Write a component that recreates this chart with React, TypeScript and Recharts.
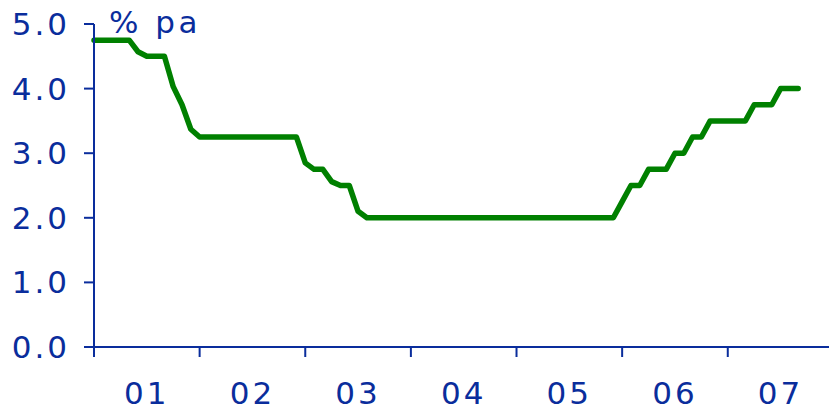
import { LineChart, Line, XAxis, YAxis } from "recharts";

// monthly policy rate, % pa (first point sits at the start of 2001)
const rates = [
  4.75, 4.75, 4.75, 4.75, 4.75, 4.57, 4.5, 4.5, 4.5, 4.03, 3.75, 3.37,
  3.25, 3.25, 3.25, 3.25, 3.25, 3.25, 3.25, 3.25, 3.25, 3.25, 3.25, 3.25,
  2.85, 2.75, 2.75, 2.56, 2.5, 2.5, 2.1, 2.0, 2.0, 2.0, 2.0, 2.0,
  2.0, 2.0, 2.0, 2.0, 2.0, 2.0, 2.0, 2.0, 2.0, 2.0, 2.0, 2.0,
  2.0, 2.0, 2.0, 2.0, 2.0, 2.0, 2.0, 2.0, 2.0, 2.0, 2.0, 2.0,
  2.25, 2.5, 2.5, 2.75, 2.75, 2.75, 3.0, 3.0, 3.25, 3.25, 3.5, 3.5,
  3.5, 3.5, 3.5, 3.75, 3.75, 3.75, 4.0, 4.0, 4.0,
];

const yearStarts = [0, 12, 24, 36, 48, 60, 72];
const yearMids = [6, 18, 30, 42, 54, 66, 78];
const yearLabels = ["01", "02", "03", "04", "05", "06", "07"];
const yTicks = [0, 1, 2, 3, 4, 5];

const data = rates.map((rate, month) => ({ month, rate }));

const BLUE = "#0a2d9c";
const GREEN = "#008000";
const FONT = "'DejaVu Sans', Verdana, sans-serif";

// year boundaries get a tick mark, mid-years get the label
const YearTick = ({ x, y, payload }: any) => {
  const v = payload.value;
  if (yearStarts.includes(v)) {
    return <line x1={x} x2={x} y1={y} y2={y + 10} stroke={BLUE} strokeWidth={2} />;
  }
  const label = yearLabels[yearMids.indexOf(v)];
  return (
    <text
      x={x}
      y={y + 57}
      textAnchor="middle"
      fill={BLUE}
      fontSize={31}
      fontFamily={FONT}
      letterSpacing={3}
    >
      {label}
    </text>
  );
};

export default function App() {
  return (
    <div style={{ position: "relative", width: 829, height: 411 }}>
      <style>{`body { margin: 0; overflow: hidden; }`}</style>
      <LineChart
        width={829}
        height={411}
        data={data}
        margin={{ top: 24, right: 0, bottom: 4, left: 0 }}
      >
        <XAxis
          dataKey="month"
          type="number"
          domain={[0, 83.5]}
          ticks={[...yearStarts, ...yearMids].sort((a, b) => a - b)}
          interval={0}
          tick={<YearTick />}
          tickLine={false}
          tickSize={0}
          tickMargin={0}
          height={60}
          axisLine={{ stroke: BLUE, strokeWidth: 2 }}
        />
        <YAxis
          type="number"
          domain={[0, 5]}
          ticks={yTicks}
          interval={0}
          width={94}
          tickSize={10}
          tickMargin={14}
          tickFormatter={(v: number) => v.toFixed(1)}
          tick={{ fill: BLUE, fontSize: 31, fontFamily: FONT, letterSpacing: 3 }}
          tickLine={{ stroke: BLUE, strokeWidth: 2 }}
          axisLine={{ stroke: BLUE, strokeWidth: 2 }}
        />
        <Line
          type="linear"
          dataKey="rate"
          stroke={GREEN}
          strokeWidth={5.5}
          strokeLinecap="round"
          strokeLinejoin="round"
          dot={false}
          isAnimationActive={false}
        />
      </LineChart>
      <svg
        width={829}
        height={411}
        style={{ position: "absolute", left: 0, top: 0, pointerEvents: "none" }}
      >
        <text x={109} y={33} fill={BLUE} fontSize={31} fontFamily={FONT} letterSpacing={3.5}>
          % pa
        </text>
      </svg>
    </div>
  );
}
